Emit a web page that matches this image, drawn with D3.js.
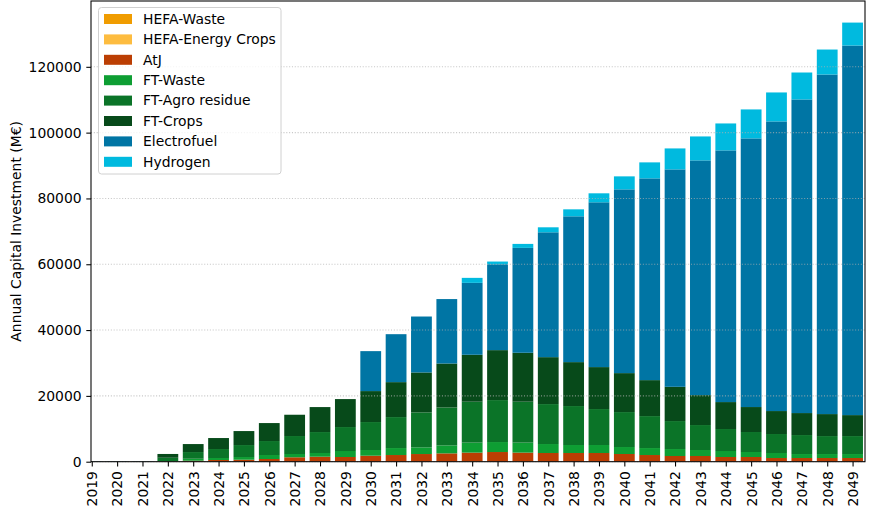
<!DOCTYPE html>
<html>
<head>
<meta charset="utf-8">
<script src="https://cdn.jsdelivr.net/npm/d3@7"></script>
<style>
    body { margin: 0; background: #fff; }
    text { font-family: "DejaVu Sans", sans-serif; fill: #000; }
</style>
</head>
<body>
<svg id="chart"></svg>
<script>
// Years on the x axis
const years = d3.range(2019, 2050);

// Series names, bottom of the stack first
const seriesNames = ["HEFA-Waste", "HEFA-Energy Crops", "AtJ", "FT-Waste", "FT-Agro residue", "FT-Crops", "Electrofuel", "Hydrogen"];
const seriesColors = ["#f09c00", "#fdbc40", "#bb3e03", "#0e9e33", "#0b7428", "#074a1a", "#0075a4", "#00badf"];

// Values per year (M€), 2019 ... 2049
const hefaWaste = [0, 0, 0, 0, 0, 0, 0, 0, 0, 0, 0, 0, 0, 0, 0, 120, 0, 120, 0, 0, 0, 0, 0, 0, 0, 0, 0, 0, 0, 0, 0];
const hefaEnergyCrops = [0, 0, 0, 0, 0, 0, 0, 0, 0, 0, 0, 0, 0, 0, 0, 0, 0, 0, 0, 0, 0, 0, 0, 0, 0, 0, 0, 0, 0, 0, 0];
const atj = [0, 0, 0, 50, 300, 520, 600, 820, 1340, 1520, 1430, 1820, 2030, 2330, 2530, 2640, 2940, 2640, 2640, 2640, 2640, 2340, 2030, 1730, 1730, 1430, 1430, 1120, 1120, 1120, 1120];
const ftWaste = [0, 0, 0, 150, 600, 600, 820, 1210, 1000, 1120, 1820, 1730, 2120, 2030, 2430, 3035, 3035, 3035, 2730, 2430, 2430, 2120, 2120, 2120, 1820, 1820, 1520, 1520, 1210, 1210, 1210];
const ftAgroResidue = [0, 0, 0, 1000, 2030, 2730, 3640, 4250, 5460, 6370, 7280, 8500, 9410, 10620, 11530, 12440, 12750, 12440, 12140, 11840, 10930, 10620, 9710, 8500, 7590, 6680, 6070, 5770, 5770, 5460, 5460];
const ftCrops = [0, 0, 0, 1150, 2430, 3340, 4250, 5460, 6470, 7590, 8500, 9410, 10620, 12140, 13350, 14260, 15180, 14870, 14260, 13350, 12750, 11840, 10930, 10410, 9100, 8190, 7590, 6980, 6680, 6680, 6370];
const electrofuel = [100, 100, 100, 0, 0, 0, 0, 0, 0, 0, 0, 12140, 14570, 17000, 19580, 21850, 26100, 31870, 37940, 44310, 50080, 55840, 61310, 66070, 71320, 76480, 81640, 88020, 95300, 103190, 112300];
const hydrogen = [0, 0, 0, 0, 0, 0, 0, 0, 0, 0, 0, 0, 0, 0, 0, 1520, 820, 1210, 1520, 2120, 2730, 3950, 4860, 6370, 7280, 8190, 8800, 8800, 8190, 7590, 6980];

const yTicks = [0, 20000, 40000, 60000, 80000, 100000, 120000];

function createBarChart() {
    const width = 874;
    const height = 514;
    const plot = { left: 91, right: 865, top: 1, bottom: 461.7 };
    const fontSize = "13.9px";

    const seriesValues = [hefaWaste, hefaEnergyCrops, atj, ftWaste, ftAgroResidue, ftCrops, electrofuel, hydrogen];

    // Build one row per year for d3.stack
    const table = years.map((year, i) => {
        const row = { year: year };
        seriesNames.forEach((name, k) => { row[name] = seriesValues[k][i]; });
        return row;
    });

    const stacked = d3.stack().keys(seriesNames)(table);
    const color = d3.scaleOrdinal().domain(seriesNames).range(seriesColors);

    const svg = d3.select("#chart")
        .attr("width", width)
        .attr("height", height);

    // Scales
    const xScale = d3.scaleLinear()
        .domain([2018.97, 2049.49])
        .range([plot.left, plot.right]);

    const yScale = d3.scaleLinear()
        .domain([0, 140000])
        .range([plot.bottom, plot.top]);

    const barWidth = xScale(2019.82) - xScale(2019);

    // Clip so the first bar is cut at the left spine
    svg.append("clipPath")
        .attr("id", "plot-clip")
        .append("rect")
        .attr("x", plot.left)
        .attr("y", plot.top)
        .attr("width", plot.right - plot.left)
        .attr("height", plot.bottom - plot.top);

    // Bars
    svg.append("g")
        .attr("clip-path", "url(#plot-clip)")
        .selectAll("g")
        .data(stacked)
        .enter()
        .append("g")
        .attr("fill", d => color(d.key))
        .selectAll("rect")
        .data(d => d)
        .enter()
        .append("rect")
        .attr("x", d => xScale(d.data.year) - barWidth / 2)
        .attr("width", barWidth)
        .attr("y", d => yScale(d[1]))
        .attr("height", d => yScale(d[0]) - yScale(d[1]));

    // Dotted grid on top of the bars
    svg.append("g")
        .selectAll("line")
        .data(yTicks)
        .enter()
        .append("line")
        .attr("x1", plot.left)
        .attr("x2", plot.right)
        .attr("y1", d => yScale(d))
        .attr("y2", d => yScale(d))
        .attr("stroke", "#b0b0b0")
        .attr("stroke-opacity", 0.7)
        .attr("stroke-width", 1.07)
        .attr("stroke-dasharray", "1.07,1.76");

    // Axes
    const xAxis = d3.axisBottom(xScale)
        .tickValues(years)
        .tickFormat(d3.format("d"))
        .tickSize(4.7)
        .tickPadding(4.7);

    const yAxis = d3.axisLeft(yScale)
        .tickValues(yTicks)
        .tickFormat(d3.format("d"))
        .tickSize(4.7)
        .tickPadding(4.7);

    const gx = svg.append("g")
        .attr("class", "x-axis")
        .attr("transform", `translate(0, ${plot.bottom})`)
        .call(xAxis);

    gx.selectAll("text")
        .attr("transform", "rotate(-90)")
        .attr("x", -9.4)
        .attr("y", 0)
        .attr("dy", "0.35em")
        .style("text-anchor", "end");

    const gy = svg.append("g")
        .attr("class", "y-axis")
        .attr("transform", `translate(${plot.left}, 0)`)
        .call(yAxis);

    [gx, gy].forEach(g => {
        g.select(".domain").remove();
        g.selectAll("line").attr("stroke", "#000").attr("stroke-width", 1.07);
        g.selectAll("text").style("font-size", fontSize).style("font-family", "DejaVu Sans");
    });

    // Frame around the plot
    svg.append("rect")
        .attr("x", plot.left)
        .attr("y", plot.top)
        .attr("width", plot.right - plot.left)
        .attr("height", plot.bottom - plot.top)
        .attr("fill", "none")
        .attr("stroke", "#000")
        .attr("stroke-width", 1.07);

    // Y label
    svg.append("text")
        .attr("transform", `translate(16, ${(plot.top + plot.bottom) / 2}) rotate(-90)`)
        .attr("dy", "0.35em")
        .style("text-anchor", "middle")
        .style("font-size", fontSize)
        .text("Annual Capital Investment (M€)");

    // Legend
    const legend = svg.append("g");

    legend.append("rect")
        .attr("x", 98.5)
        .attr("y", 7.5)
        .attr("width", 182.5)
        .attr("height", 166.5)
        .attr("rx", 3)
        .attr("fill", "#fff")
        .attr("fill-opacity", 0.8)
        .attr("stroke", "#d0d0d0");

    const rowStep = 20.4;
    const items = legend.selectAll(".legend")
        .data(seriesNames)
        .enter()
        .append("g")
        .attr("class", "legend")
        .attr("transform", (d, i) => `translate(104, ${19 + i * rowStep})`);

    items.append("rect")
        .attr("y", -5)
        .attr("width", 28)
        .attr("height", 10)
        .attr("fill", d => color(d));

    items.append("text")
        .attr("x", 39)
        .attr("dy", "0.35em")
        .style("font-size", fontSize)
        .text(d => d);
}

createBarChart();
</script>
</body>
</html>
